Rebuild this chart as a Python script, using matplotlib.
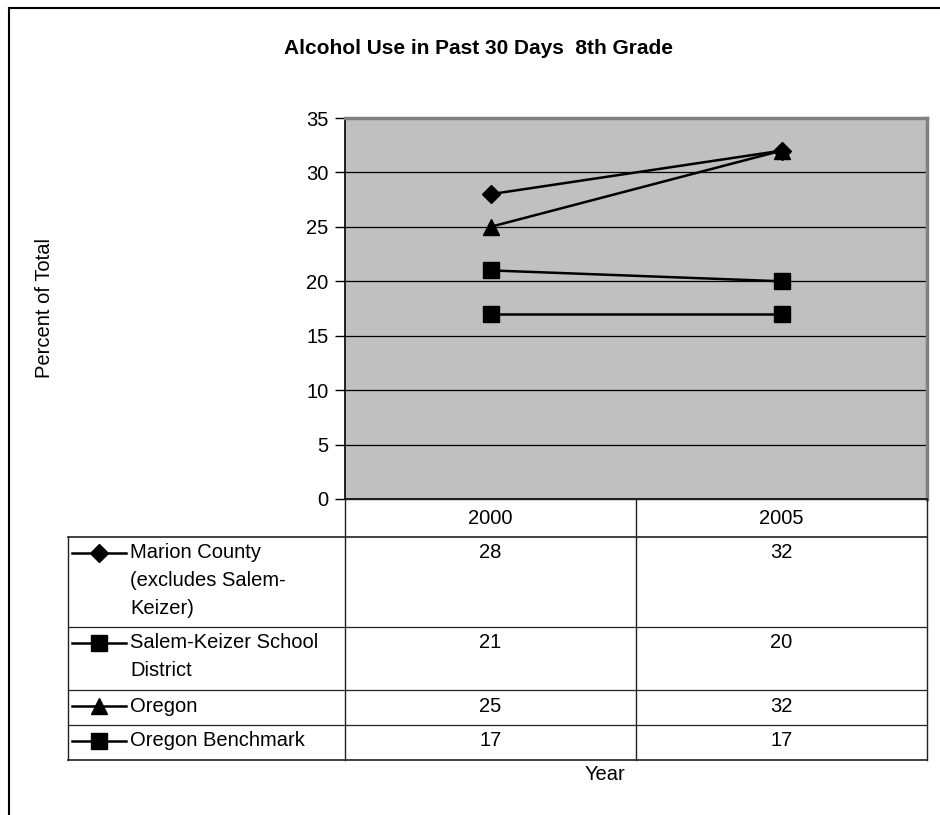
import numpy as np
import matplotlib.pyplot as plt
from matplotlib.lines import Line2D

plt.rcParams['font.family'] = ['Liberation Sans', 'DejaVu Sans']

years = ['2000', '2005']
series = ['Marion County (excludes Salem-Keizer)', 'Salem-Keizer School District',
          'Oregon', 'Oregon Benchmark']
label_lines = [['Marion County', '(excludes Salem-', 'Keizer)'],
               ['Salem-Keizer School', 'District'],
               ['Oregon'],
               ['Oregon Benchmark']]
marion = [28, 32]
salem = [21, 20]
oregon = [25, 32]
benchmark = [17, 17]
values = [marion, salem, oregon, benchmark]
markers = ['D', 's', '^', 's']
msizes = [9.5, 11, 11, 11]

W, H = 940, 815
fs = 14.5
fig = plt.figure(figsize=(W / 100, H / 100), dpi=100)

# pixel layout
px_l, px_r, px_t, px_b = 345, 927, 118, 499
ax = fig.add_axes([px_l / W, 1 - px_b / H, (px_r - px_l) / W, (px_b - px_t) / H])
ax.set_facecolor('#C0C0C0')
x = np.arange(len(years))
for vals, m, ms in zip(values, markers, msizes):
    ax.plot(x, vals, color='black', lw=1.8, marker=m, ms=ms, mfc='black', mec='black', zorder=3)
ax.set_xlim(-0.5, len(years) - 0.5)
ax.set_ylim(0, 35)
ax.set_yticks(range(0, 36, 5))
ax.set_xticks([])
ax.yaxis.grid(True, color='black', lw=0.9)
ax.set_axisbelow(True)
ax.tick_params(axis='y', direction='out', length=7, width=1, labelsize=fs, pad=5)
for s in ['top', 'right']:
    ax.spines[s].set_color('#808080')
    ax.spines[s].set_linewidth(2.5)
for s in ['left', 'bottom']:
    ax.spines[s].set_color('black')
    ax.spines[s].set_linewidth(1.2)

# overlay in pixel coordinates for frame, title, table
ov = fig.add_axes([0, 0, 1, 1], facecolor='none')
ov.set_xlim(0, W)
ov.set_ylim(H, 0)
ov.axis('off')

ov.plot([9, 9], [8, H], color='black', lw=1.5)
ov.plot([9, W], [8, 8], color='black', lw=1.5)

ov.text(478, 48, 'Alcohol Use in Past 30 Days  8th Grade', ha='center', va='center',
        fontsize=15, fontweight='bold')
ov.text(45, 308, 'Percent of Total', rotation=90, ha='center', va='center', fontsize=fs)
ov.text(605, 775, 'Year', ha='center', va='center', fontsize=fs)

# table
col_x = [68, 345, 636, 927]
head_t, head_b = 499, 537
row_y = [537, 627, 690, 725, 760]
lc = '#222222'
ov.plot([345, 927], [head_t, head_t], color=lc, lw=1)
ov.plot([68, 927], [head_b, head_b], color=lc, lw=1.2)
for y in row_y[1:-1]:
    ov.plot([68, 927], [y, y], color=lc, lw=0.9)
ov.plot([68, 927], [row_y[-1], row_y[-1]], color=lc, lw=1.2)
ov.plot([68, 68], [head_b, row_y[-1]], color=lc, lw=1)
ov.plot([345, 345], [head_t, row_y[-1]], color=lc, lw=1)
ov.plot([636, 636], [head_t, row_y[-1]], color=lc, lw=1)
ov.plot([927, 927], [head_t, row_y[-1]], color=lc, lw=1)

cx = [(col_x[i] + col_x[i + 1]) / 2 for i in (1, 2)]
for j, yr in enumerate(years):
    ov.text(cx[j], 518, yr, ha='center', va='center', fontsize=fs)

line_h = 27.5
for i, (lines, vals, m, ms) in enumerate(zip(label_lines, values, markers, msizes)):
    y0 = row_y[i] + 16
    ov.add_line(Line2D([72, 126], [y0, y0], color='black', lw=1.8))
    ov.plot([99], [y0], marker=m, ms=ms, color='black')
    for k, t in enumerate(lines):
        ov.text(130, y0 + k * line_h, t, ha='left', va='center', fontsize=fs)
    for j, v in enumerate(vals):
        ov.text(cx[j], y0, str(v), ha='center', va='center', fontsize=fs)

fig.savefig('out.png', dpi=100)
